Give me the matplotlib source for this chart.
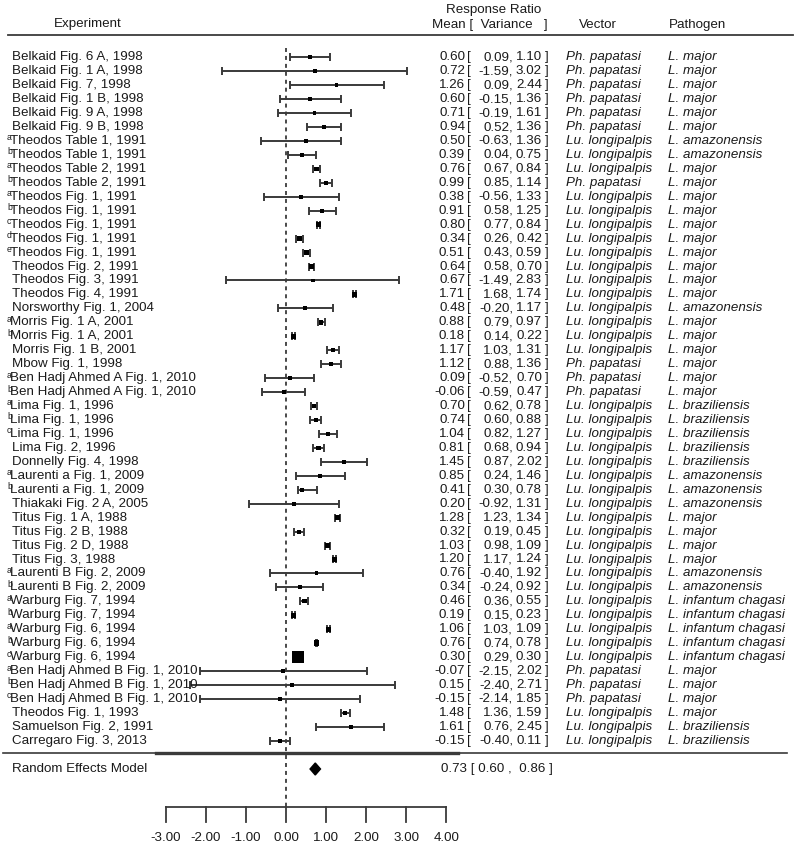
import numpy as np
import matplotlib
matplotlib.use("Agg")
import matplotlib.pyplot as plt

plt.rcParams['font.family'] = ['Liberation Sans', 'DejaVu Sans']
plt.rcParams['axes.unicode_minus'] = False

# study labels, superscript letters, and response ratio (mean, 95% CI)
studies = [
    "Belkaid Fig. 6 A, 1998", "Belkaid Fig. 1 A, 1998", "Belkaid Fig. 7, 1998",
    "Belkaid Fig. 1 B, 1998", "Belkaid Fig. 9 A, 1998", "Belkaid Fig. 9 B, 1998",
    "Theodos Table 1, 1991", "Theodos Table 1, 1991", "Theodos Table 2, 1991",
    "Theodos Table 2, 1991", "Theodos Fig. 1, 1991", "Theodos Fig. 1, 1991",
    "Theodos Fig. 1, 1991", "Theodos Fig. 1, 1991", "Theodos Fig. 1, 1991",
    "Theodos Fig. 2, 1991", "Theodos Fig. 3, 1991", "Theodos Fig. 4, 1991",
    "Norsworthy Fig. 1, 2004", "Morris Fig. 1 A, 2001", "Morris Fig. 1 A, 2001",
    "Morris Fig. 1 B, 2001", "Mbow Fig. 1, 1998", "Ben Hadj Ahmed A Fig. 1, 2010",
    "Ben Hadj Ahmed A Fig. 1, 2010", "Lima Fig. 1, 1996", "Lima Fig. 1, 1996",
    "Lima Fig. 1, 1996", "Lima Fig. 2, 1996", "Donnelly Fig. 4, 1998",
    "Laurenti a Fig. 1, 2009", "Laurenti a Fig. 1, 2009", "Thiakaki Fig. 2 A, 2005",
    "Titus Fig. 1 A, 1988", "Titus Fig. 2 B, 1988", "Titus Fig. 2 D, 1988",
    "Titus Fig. 3, 1988", "Laurenti B Fig. 2, 2009", "Laurenti B Fig. 2, 2009",
    "Warburg Fig. 7, 1994", "Warburg Fig. 7, 1994", "Warburg Fig. 6, 1994",
    "Warburg Fig. 6, 1994", "Warburg Fig. 6, 1994", "Ben Hadj Ahmed B Fig. 1, 2010",
    "Ben Hadj Ahmed B Fig. 1, 2010", "Ben Hadj Ahmed B Fig. 1, 2010",
    "Theodos Fig. 1, 1993", "Samuelson Fig. 2, 1991", "Carregaro Fig. 3, 2013",
]
sup = ['', '', '', '', '', '',
       'a', 'b', 'a', 'b', 'a', 'b', 'c', 'd', 'e',
       '', '', '', '',
       'a', 'b', '', '',
       'a', 'b',
       'a', 'b', 'c', '', '',
       'a', 'b', '',
       '', '', '', '',
       'a', 'b',
       'a', 'b', 'a', 'b', 'c',
       'a', 'b', 'c',
       '', '', '']
mean = [0.60, 0.72, 1.26, 0.60, 0.71, 0.94,
        0.50, 0.39, 0.76, 0.99, 0.38, 0.91, 0.80, 0.34, 0.51,
        0.64, 0.67, 1.71, 0.48,
        0.88, 0.18, 1.17, 1.12,
        0.09, -0.06,
        0.70, 0.74, 1.04, 0.81, 1.45,
        0.85, 0.41, 0.20,
        1.28, 0.32, 1.03, 1.20,
        0.76, 0.34,
        0.46, 0.19, 1.06, 0.76, 0.30,
        -0.07, 0.15, -0.15,
        1.48, 1.61, -0.15]
ci_lo = [0.09, -1.59, 0.09, -0.15, -0.19, 0.52,
         -0.63, 0.04, 0.67, 0.85, -0.56, 0.58, 0.77, 0.26, 0.43,
         0.58, -1.49, 1.68, -0.20,
         0.79, 0.14, 1.03, 0.88,
         -0.52, -0.59,
         0.62, 0.60, 0.82, 0.68, 0.87,
         0.24, 0.30, -0.92,
         1.23, 0.19, 0.98, 1.17,
         -0.40, -0.24,
         0.36, 0.15, 1.03, 0.74, 0.29,
         -2.15, -2.40, -2.14,
         1.36, 0.76, -0.40]
ci_hi = [1.10, 3.02, 2.44, 1.36, 1.61, 1.36,
         1.36, 0.75, 0.84, 1.14, 1.33, 1.25, 0.84, 0.42, 0.59,
         0.70, 2.83, 1.74, 1.17,
         0.97, 0.22, 1.31, 1.36,
         0.70, 0.47,
         0.78, 0.88, 1.27, 0.94, 2.02,
         1.46, 0.78, 1.31,
         1.34, 0.45, 1.09, 1.24,
         1.92, 0.92,
         0.55, 0.23, 1.09, 0.78, 0.30,
         2.02, 2.71, 1.85,
         1.59, 2.45, 0.11]
vector = (["Ph. papatasi"] * 6 + ["Lu. longipalpis"] * 3 + ["Ph. papatasi"]
          + ["Lu. longipalpis"] * 12 + ["Ph. papatasi"] * 3
          + ["Lu. longipalpis"] * 19 + ["Ph. papatasi"] * 3
          + ["Lu. longipalpis"] * 3)
pathogen = (["L. major"] * 6 + ["L. amazonensis"] * 2 + ["L. major"] * 10
            + ["L. amazonensis"] + ["L. major"] * 6 + ["L. braziliensis"] * 5
            + ["L. amazonensis"] * 3 + ["L. major"] * 4 + ["L. amazonensis"] * 2
            + ["L. infantum chagasi"] * 5 + ["L. major"] * 4
            + ["L. braziliensis"] * 2)

re_mean, re_lo, re_hi = 0.73, 0.60, 0.86
axis_ticks = [-3, -2, -1, 0, 1, 2, 3, 4]

# ---- layout helpers (pixel -> data) ----
W, H = 795, 847
X0, XS = 286.0, 40.1      # pixel of x=0 and pixels per unit
Y0, YS = 57.3, 13.95      # pixel of first row and row spacing


def px(x):
    return (x - X0) / XS


def py(y):
    return (y - Y0) / YS


fig = plt.figure(figsize=(W / 100, H / 100), dpi=100)
ax = fig.add_axes([0, 0, 1, 1])
ax.set_xlim(px(0), px(W))
ax.set_ylim(py(H), py(0))
ax.axis('off')

tc = '#1a1a1a'
lc = '#3a3a3a'
fs = 9.6
rows = np.arange(len(studies))
mean_a = np.array(mean)
lo_a = np.array(ci_lo)
hi_a = np.array(ci_hi)

# point size from inverse standard error (as in metafor)
se = (hi_a - lo_a) / (2 * 1.96)
wi = 1 / se
psize = (wi - wi.min()) / (wi.max() - wi.min()) + 0.5

# headers
ax.text(px(88), py(24), "Experiment", ha='center', va='center', fontsize=fs, color=tc)
ax.text(px(494), py(10), "Response Ratio", ha='center', va='center', fontsize=fs, color=tc)
ax.text(px(432), py(25), "Mean [  Variance   ]", ha='left', va='center', fontsize=fs, color=tc)
ax.text(px(598), py(25), "Vector", ha='center', va='center', fontsize=fs, color=tc)
ax.text(px(697), py(25), "Pathogen", ha='center', va='center', fontsize=fs, color=tc)
ax.plot([px(8), px(793)], [py(35), py(35)], color=lc, lw=1.3)

# reference line at 0
ax.plot([0, 0], [py(48), py(807)], color=lc, lw=1.3, ls=(0, (2.2, 2.2)))

# study CIs and points
ax.errorbar(mean_a, rows, xerr=[mean_a - lo_a, hi_a - mean_a], fmt='none',
            ecolor=lc, elinewidth=1.4, capsize=2.6, capthick=1.4, zorder=3)
ax.scatter(mean_a, rows, s=(psize * 5.6) ** 2, marker='s', color='black',
           linewidths=0, zorder=4)

for i, r in enumerate(rows):
    if sup[i]:
        ax.text(px(7), r - 0.22, sup[i], ha='left', va='center', fontsize=6.2, color=tc)
        ax.text(px(10.5), r, studies[i], ha='left', va='center', fontsize=fs, color=tc)
    else:
        ax.text(px(12), r, studies[i], ha='left', va='center', fontsize=fs, color=tc)
    ax.text(px(465), r, f"{mean[i]:.2f}", ha='right', va='center', fontsize=fs, color=tc)
    ax.text(px(467), r, "[", ha='left', va='center', fontsize=fs, color=tc)
    ax.text(px(513), r, f"{ci_lo[i]:.2f},", ha='right', va='center', fontsize=fs, color=tc)
    ax.text(px(542), r, f"{ci_hi[i]:.2f}", ha='right', va='center', fontsize=fs, color=tc)
    ax.text(px(545), r, "]", ha='left', va='center', fontsize=fs, color=tc)
    ax.text(px(566), r, vector[i], ha='left', va='center', fontsize=fs,
            color=tc, style='italic')
    ax.text(px(668), r, pathogen[i], ha='left', va='center', fontsize=fs,
            color=tc, style='italic')

# separator before summary
ax.plot([px(3), px(787)], [py(753), py(753)], color=lc, lw=1.2)
ax.plot([px(156), px(458)], [py(753), py(753)], color=lc, lw=2.4)

# summary diamond
yr = py(769)
hd = 0.43
ax.fill([re_lo, re_mean, re_hi, re_mean], [yr, yr - hd, yr, yr + hd],
        color='black', zorder=4)
ax.text(px(12), yr, "Random Effects Model", ha='left', va='center', fontsize=fs, color=tc)
ax.text(px(441), yr, f"{re_mean:.2f} [ {re_lo:.2f} ,  {re_hi:.2f} ]",
        ha='left', va='center', fontsize=fs, color=tc)

# bottom axis
ya = py(807)
ax.plot([axis_ticks[0], axis_ticks[-1]], [ya, ya], color=lc, lw=1.3)
for t in axis_ticks:
    ax.plot([t, t], [ya, py(822)], color=lc, lw=1.3)
    ax.text(t, py(838), f"{t:.2f}", ha='center', va='center', fontsize=fs, color=tc)

fig.savefig("out.png", dpi=100)
